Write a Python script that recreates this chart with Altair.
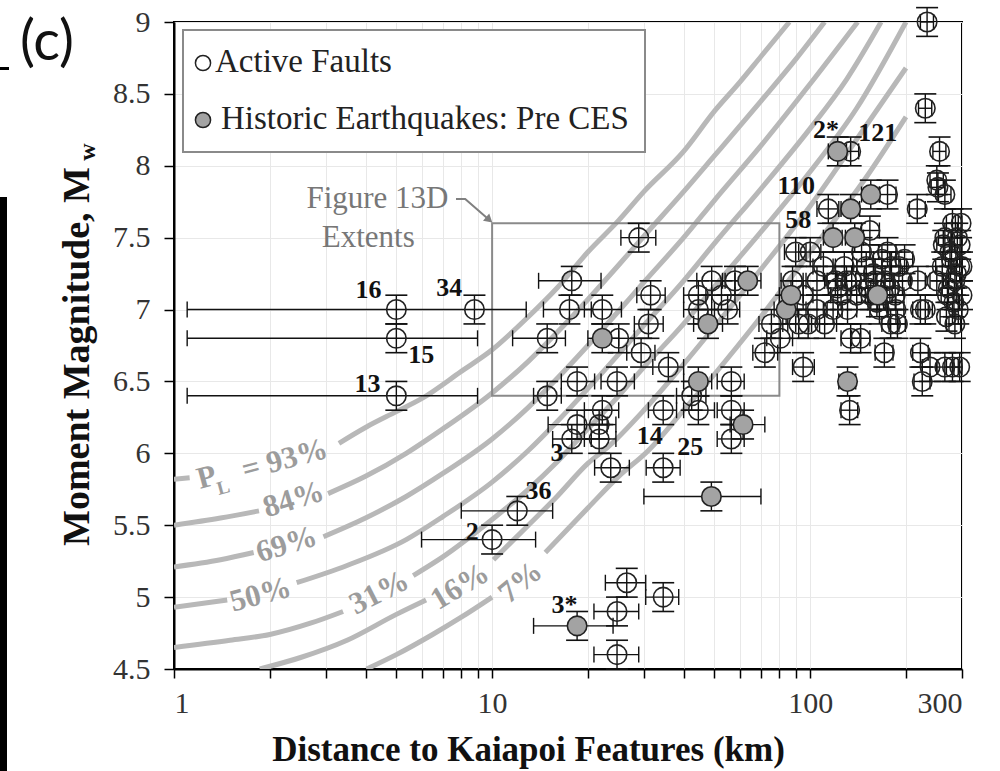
import altair as alt
import pandas as pd

# ---------------- data ----------------
# Active faults: distance (km), magnitude, distance range
af_d = [5, 8.8, 5, 5, 12, 10, 24.7, 26.5, 34.5, 24.7, 34.5, 23.6, 17.8, 21.7, 18.5, 21.7,
        22.2, 34.5, 14.9, 18.5, 24.7, 35.8, 29.4, 14.9, 25, 31, 31.5, 17.5, 22.2, 17.8,
        28.9, 44.5, 56.5, 56.5, 56.5, 42.4, 44.5, 49, 52.6, 44.5, 55, 58, 72, 80.5, 95,
        98.5, 111, 75.5, 133, 131, 134, 144, 171, 179, 222, 225, 238, 265, 222, 100, 90,
        154, 105, 120, 114, 217, 252, 175, 134, 233, 230, 255, 250, 265, 188, 218, 230,
        150, 160, 170, 180, 165, 185, 175, 195, 155, 145, 280, 290, 275, 295, 285, 270,
        292, 260, 285, 300, 265, 298, 250, 295, 280, 88, 95, 110, 125, 130, 118, 105, 92,
        262, 278, 288, 272, 296, 283, 268, 300, 158, 168, 178, 190, 162, 172, 186, 198,
        152, 135, 128, 140, 122]
af_m = [7.0, 7.0, 6.8, 6.4, 5.6, 5.4, 4.9, 5.1, 5.0, 4.6, 5.9, 5.9, 6.1, 6.1, 6.2, 6.2,
        6.3, 6.3, 6.4, 6.5, 6.5, 6.6, 6.7, 6.8, 6.8, 6.9, 7.1, 7.0, 7.0, 7.2,
        7.5, 6.3, 6.5, 6.3, 6.1, 6.4, 7.1, 7.2, 7.1, 7.0, 7.0, 7.2, 6.7, 6.8, 6.6,
        6.9, 6.9, 6.9, 6.3, 7.0, 6.8, 6.8, 6.7, 6.9, 6.7, 6.5, 6.6, 6.6, 7.0, 7.4, 7.4,
        7.55, 7.2, 7.2, 7.7, 7.7, 7.85, 7.8, 8.1, 9.0, 8.4, 8.1, 7.9, 7.8, 6.9, 7.2, 7.0,
        7.3, 7.2, 7.1, 7.3, 7.0, 7.1, 7.4, 7.2, 7.1, 7.4, 7.6, 7.5, 7.4, 7.3, 7.2, 7.1,
        7.0, 7.3, 6.9, 7.1, 7.5, 7.6, 7.2, 6.6, 6.6, 7.2, 7.1, 7.3, 7.1, 7.2, 7.0, 7.0, 6.9,
        7.45, 7.35, 7.25, 7.15, 7.45, 7.05, 6.95, 7.3, 7.25, 7.35, 7.15, 7.3, 7.05, 7.2, 7.0, 7.35,
        7.15, 7.2, 7.3, 7.1, 7.15]
af_dlo = [1.1, 8.8, 1.1, 1.1, 8.0, 6.0, 20.9, 22.7, 30.4, 20.9, 30.5, 21, 15.5, 19.5, 15, 19.5,
          19.5, 31, 13.5, 16.5, 22, 32, 26.5, 11.6, 22.5, 28, 28.5, 14.5, 19.5, 14,
          25.4, 40, 51, 51, 51, 38, 40, 44, 47, 40, 50, 53, 66, 73, 88,
          90, 101, 69, 125, 122, 125, 135, 160, 168, 210, 212, 225, 250, 210, 92, 83,
          145, 97, 111, 105, 205, 240, 165, 126, 222, 219, 243, 238, 253, 177, 206, 218,
          140, 150, 159, 168, 154, 173, 164, 183, 145, 136, 268, 278, 263, 283, 273, 258,
          280, 248, 273, 288, 253, 286, 238, 283, 268, 81, 88, 102, 116, 121, 110, 97, 85,
          250, 266, 276, 260, 284, 271, 256, 288, 148, 158, 167, 179, 152, 162, 175, 186,
          143, 126, 120, 131, 114]
af_dhi = [12.8, 8.8, 9.0, 9.0, 15.5, 13.7, 28.9, 30.4, 38.6, 28.9, 39, 27, 20.5, 24.5, 23, 24.5,
          25, 38, 16.5, 21, 28, 40, 32.5, 17, 28, 34.5, 35, 20.5, 25.5, 22,
          32.7, 50, 62, 62, 62, 47, 49, 54, 58, 49, 60, 64, 79, 88, 103,
          107, 121, 82, 141, 140, 144, 154, 182, 190, 235, 238, 250, 280, 235, 108, 97,
          165, 113, 129, 123, 230, 265, 186, 142, 244, 241, 267, 262, 277, 199, 230, 242,
          160, 171, 181, 192, 176, 197, 186, 207, 165, 154, 292, 300, 287, 300, 297, 282,
          300, 272, 297, 300, 277, 300, 262, 300, 292, 95, 102, 118, 134, 139, 126, 113, 99,
          274, 290, 300, 284, 300, 295, 280, 300, 168, 178, 189, 201, 172, 182, 197, 210,
          161, 144, 136, 149, 130]

# Historic earthquakes (pre CES)
hq_d = [18.5, 48.9, 61.5, 44.5, 47.7, 63.6, 22.2, 84, 87, 122, 155, 118, 138, 134, 131, 163]
hq_m = [4.8, 5.7, 6.2, 6.5, 6.9, 7.2, 6.8, 7.0, 7.1, 8.1, 7.8, 7.5, 7.5, 7.7, 6.5, 7.1]
hq_dlo = [13.5, 30, 56, 40, 43, 58, 20, 77, 80, 114, 145, 110, 129, 125, 123, 152]
hq_dhi = [24, 70, 72, 49, 53, 70, 25, 91, 95, 130, 165, 126, 147, 143, 139, 174]

MAG_ERR = 0.1

# P_L contours (distance km, magnitude, segment split at label)
pl93_d = [1.0, 1.12, 3.3, 4, 5, 6, 8, 10, 13, 16, 20, 25, 30, 40, 50, 60, 70, 86]
pl93_m = [5.82, 5.83, 6.07, 6.18, 6.29, 6.38, 6.57, 6.72, 6.95, 7.15, 7.40, 7.62, 7.82, 8.10, 8.38, 8.58, 8.76, 9.0]
pl93_s = [0, 0] + [1] * 16
pl84_d = [1.0, 1.4, 1.85, 3.05, 4, 5.37, 7, 10, 13, 16, 20, 25, 30, 40, 50, 70, 90, 111]
pl84_m = [5.50, 5.55, 5.60, 5.72, 5.84, 6.00, 6.17, 6.42, 6.64, 6.84, 7.07, 7.31, 7.51, 7.82, 8.07, 8.45, 8.74, 9.0]
pl84_s = [0, 0, 0] + [1] * 15
pl69_d = [1.0, 1.4, 1.78, 2.95, 4, 5.37, 7, 10, 13, 16, 20, 25, 30, 40, 50, 70, 100, 141]
pl69_m = [5.21, 5.26, 5.31, 5.42, 5.55, 5.70, 5.86, 6.10, 6.32, 6.52, 6.75, 6.99, 7.19, 7.50, 7.76, 8.14, 8.57, 9.0]
pl69_s = [0, 0, 0] + [1] * 15
pl50_d = [1.0, 1.47, 2.43, 3.5, 5.37, 7, 10, 13, 16, 20, 25, 30, 40, 50, 70, 100, 130, 167]
pl50_m = [4.93, 4.98, 5.10, 5.22, 5.40, 5.56, 5.80, 6.02, 6.22, 6.45, 6.69, 6.89, 7.20, 7.46, 7.84, 8.26, 8.60, 9.0]
pl50_s = [0, 0] + [1] * 16
pl31_d = [1.0, 1.5, 2.0, 2.7, 3.4, 5.65, 7, 10, 13, 16, 20, 25, 30, 40, 50, 70, 100, 140, 200]
pl31_m = [4.65, 4.70, 4.74, 4.82, 4.90, 5.15, 5.28, 5.54, 5.75, 5.94, 6.17, 6.40, 6.60, 6.90, 7.16, 7.54, 7.96, 8.40, 9.0]
pl31_s = [0] * 5 + [1] * 14
pl16_d = [1.86, 2.5, 3.5, 5.0, 6.2, 10.1, 13, 16, 20, 23.3, 30, 40, 50, 70, 100, 150, 200]
pl16_m = [4.50, 4.58, 4.70, 4.88, 4.98, 5.26, 5.50, 5.70, 5.93, 6.05, 6.30, 6.62, 6.88, 7.28, 7.72, 8.28, 8.68]
pl16_s = [0] * 5 + [1] * 12
pl7_d = [4.03, 5.0, 6.5, 8.0, 10.0, 14.7, 20, 25, 31, 40, 50, 70, 100, 150, 200]
pl7_m = [4.50, 4.60, 4.74, 4.86, 5.00, 5.31, 5.62, 5.84, 6.02, 6.30, 6.55, 6.95, 7.40, 7.92, 8.34]
pl7_s = [0] * 5 + [1] * 10

# contour labels
cl_text = ["P", "L", "= 93%", "84%", "69%", "50%", "31%", "16%", "7%"]
cl_d = [1.269, 1.43, 2.23, 2.378, 2.26, 1.873, 4.42, 7.93, 12.3]
cl_m = [5.829, 5.762, 5.954, 5.676, 5.363, 5.015, 5.029, 5.071, 5.10]
cl_angle = [345, 345, 345, 343, 343, 345, 333, 329, 320]
cl_size = [31, 19, 31, 31, 31, 31, 31, 31, 31]

# point labels
pt_text = ["16", "34", "15", "13", "36", "2", "3", "14", "25", "3*", "2*", "121", "110", "58"]
pt_d = [4.09, 7.33, 5.99, 4.06, 14.0, 8.66, 16.0, 31.3, 42.0, 16.9, 112, 163, 90.4, 91.7]
pt_m = [7.136, 7.15, 6.684, 6.483, 5.74, 5.45, 6.0, 6.12, 6.045, 4.946, 8.25, 8.23, 7.86, 7.62]

# Figure 13D extents box
box_d = [10, 80]
box_m = [6.4, 7.6]
box_text = ["Figure 13D", "Extents"]
box_text_d = [4.36, 4.08]
box_text_m = [7.769, 7.498]
arrow_d = [7.7, 8.23, 9.72]
arrow_m = [7.769, 7.769, 7.63]

x_ticks = [1, 2, 3, 4, 5, 6, 7, 8, 9, 10, 20, 30, 40, 50, 60, 70, 80, 90, 100, 200, 300]
x_labels = [1, 10, 100, 300]
y_ticks = [4.5, 5, 5.5, 6, 6.5, 7, 7.5, 8, 8.5, 9]

# ---------------- build tables ----------------
frames = []
for name, d, m, s in [("93", pl93_d, pl93_m, pl93_s), ("84", pl84_d, pl84_m, pl84_s),
                      ("69", pl69_d, pl69_m, pl69_s), ("50", pl50_d, pl50_m, pl50_s),
                      ("31", pl31_d, pl31_m, pl31_s), ("16", pl16_d, pl16_m, pl16_s),
                      ("7", pl7_d, pl7_m, pl7_s)]:
    frames.append(pd.DataFrame({"d": d, "m": m, "seg": [f"{name}-{v}" for v in s],
                                "order": list(range(len(d)))}))
curves = pd.concat(frames, ignore_index=True)

af = pd.DataFrame({"d": af_d, "m": af_m, "dlo": af_dlo, "dhi": af_dhi, "g": "Active Faults"})
hq = pd.DataFrame({"d": hq_d, "m": hq_m, "dlo": hq_dlo, "dhi": hq_dhi, "g": "Historic"})
pts = pd.concat([af, hq], ignore_index=True)
pts["mlo"] = pts["m"] - MAG_ERR
pts["mhi"] = pts["m"] + MAG_ERR

SERIF = "Liberation Serif"
xs = alt.Scale(type="log", domain=[1, 300])
ys = alt.Scale(domain=[4.5, 9])
lbl_expr = "indexof([" + ",".join(str(v) for v in x_labels) + "], datum.value) >= 0 ? datum.label : ''"

x_axis = alt.Axis(values=x_ticks, labelExpr=lbl_expr, format="~g", labelOverlap=False,
                  labelFont=SERIF, labelFontSize=30, labelColor="#333", labelPadding=10,
                  tickSize=9, tickWidth=1.5, tickColor="black", domainColor="black", domainWidth=2,
                  grid=True, gridColor="#e8e8e8", gridWidth=1,
                  title="Distance to Kaiapoi Features (km)", titleFont=SERIF, titleFontSize=35,
                  titleFontWeight="bold", titleColor="#111", titleX=354, titleY=91,
                  titleBaseline="alphabetic", titleAlign="center")
y_axis = alt.Axis(values=y_ticks, format="~g", labelFont=SERIF, labelFontSize=30, labelColor="#333",
                  labelPadding=14, tickSize=10, tickWidth=1.5, tickColor="black",
                  domainColor="black", domainWidth=2, grid=True, gridColor="#e8e8e8", gridWidth=1,
                  title="Moment Magnitude, M", titleFont=SERIF, titleFontSize=38, titleFontWeight="bold",
                  titleColor="#111", titleAngle=270, titleX=-86, titleY=334,
                  titleBaseline="alphabetic", titleAlign="center")


def X(f):
    return alt.X(f, type="quantitative", scale=xs, axis=x_axis)


def Y(f):
    return alt.Y(f, type="quantitative", scale=ys, axis=y_axis)


curve_layer = alt.Chart(curves).mark_line(color="#b8b8b8", strokeWidth=5, interpolate="monotone",
                                          clip=True, strokeCap="butt").encode(
    x=X("d"), y=Y("m"), detail="seg:N", order="order:Q")

box_df = pd.DataFrame({"d": [box_d[0]], "d2": [box_d[1]], "m": [box_m[0]], "m2": [box_m[1]]})
box_layer = alt.Chart(box_df).mark_rect(fill=None, stroke="#8a8a8a", strokeWidth=2).encode(
    x=X("d"), x2="d2", y=Y("m"), y2="m2")

box_lbl = alt.Chart(pd.DataFrame({"t": box_text, "d": box_text_d, "m": box_text_m})).mark_text(
    font=SERIF, fontSize=31, color="#777", baseline="middle", align="center").encode(
    x=X("d"), y=Y("m"), text="t:N")

arrow_df = pd.DataFrame({"d": arrow_d, "m": arrow_m, "o": [0, 1, 2]})
arrow_line = alt.Chart(arrow_df).mark_line(color="#808080", strokeWidth=2).encode(
    x=X("d"), y=Y("m"), order="o:Q")
arrow_head = alt.Chart(arrow_df.iloc[[2]]).mark_point(shape="triangle", filled=True, color="#808080",
                                                     size=90, angle=131, opacity=1).encode(x=X("d"), y=Y("m"))

hbar = alt.Chart(pts).transform_filter("datum.dhi > datum.dlo").mark_rule(
    color="#111", strokeWidth=1.4).encode(x=X("dlo"), x2="dhi", y=Y("m"))
vbar = alt.Chart(pts).mark_rule(color="#111", strokeWidth=1.4).encode(x=X("d"), y=Y("mlo"), y2="mhi")
hcap_lo = alt.Chart(pts).transform_filter("datum.dhi > datum.dlo").mark_tick(
    orient="vertical", size=16, thickness=1.4, color="#111", opacity=1).encode(x=X("dlo"), y=Y("m"))
hcap_hi = alt.Chart(pts).transform_filter("datum.dhi > datum.dlo").mark_tick(
    orient="vertical", size=16, thickness=1.4, color="#111", opacity=1).encode(x=X("dhi"), y=Y("m"))
vcap_lo = alt.Chart(pts).mark_tick(orient="horizontal", size=22, thickness=1.6, color="#111",
                                   opacity=1).encode(x=X("d"), y=Y("mlo"))
vcap_hi = alt.Chart(pts).mark_tick(orient="horizontal", size=22, thickness=1.6, color="#111",
                                   opacity=1).encode(x=X("d"), y=Y("mhi"))

af_layer = alt.Chart(af).mark_point(shape="circle", filled=False, size=380, stroke="#222",
                                    strokeWidth=1.6, opacity=1).encode(x=X("d"), y=Y("m"))
hq_layer = alt.Chart(hq).mark_circle(size=380, fill="#a3a3a3", stroke="#222", strokeWidth=1.6,
                                     opacity=1).encode(x=X("d"), y=Y("m"))

cl_layer = alt.Chart(pd.DataFrame({"t": cl_text, "d": cl_d, "m": cl_m, "a": cl_angle, "s": cl_size})).mark_text(
    font=SERIF, fontWeight="bold", color="#9c9c9c", baseline="middle", align="center").encode(
    x=X("d"), y=Y("m"), text="t:N", angle=alt.Angle("a:Q", scale=None),
    size=alt.Size("s:Q", scale=None, legend=None))

pt_layer = alt.Chart(pd.DataFrame({"t": pt_text, "d": pt_d, "m": pt_m})).mark_text(
    font=SERIF, fontWeight="bold", fontSize=26, color="#111", baseline="middle", align="center").encode(
    x=X("d"), y=Y("m"), text="t:N")

dummy = pd.DataFrame({"k": [0]})
# manual legend (pixel positions in the plot area)
leg_box = alt.Chart(dummy).mark_rect(fill="white", stroke="#8a8a8a", strokeWidth=2).encode(
    x=alt.value(9), x2=alt.value(471), y=alt.value(8), y2=alt.value(130))
leg_sym1 = alt.Chart(dummy).mark_point(shape="circle", filled=False, size=230, stroke="#222",
                                       strokeWidth=1.5, opacity=1).encode(x=alt.value(29), y=alt.value(41))
leg_sym2 = alt.Chart(dummy).mark_circle(size=230, fill="#a3a3a3", stroke="#222", strokeWidth=1.5,
                                        opacity=1).encode(x=alt.value(29), y=alt.value(98))
leg_txt1 = alt.Chart(dummy).mark_text(text="Active Faults", font=SERIF, fontSize=33, color="#222",
                                      align="left", baseline="middle").encode(x=alt.value(41), y=alt.value(40))
leg_txt2 = alt.Chart(dummy).mark_text(text="Historic Earthquakes: Pre CES", font=SERIF, fontSize=33,
                                      color="#222", align="left", baseline="middle").encode(
    x=alt.value(47), y=alt.value(97))

# subscript of the y-title and panel letter
sub_w = alt.Chart(dummy).mark_text(text="w", font=SERIF, fontSize=24, fontWeight="bold", color="#111",
                                   angle=270, align="center", baseline="alphabetic").encode(
    x=alt.value(-79), y=alt.value(130))
panel = alt.Chart(dummy).mark_text(text="(c)", font="Lato", fontSize=56, color="#111",
                                   align="center", baseline="alphabetic").encode(x=alt.value(-127), y=alt.value(38))
edge_bar = alt.Chart(dummy).mark_rect(color="black").encode(
    x=alt.value(-174), x2=alt.value(-167), y=alt.value(175), y2=alt.value(749))
edge_dash = alt.Chart(dummy).mark_rect(color="black").encode(
    x=alt.value(-174), x2=alt.value(-165), y=alt.value(45), y2=alt.value(48))

chart = alt.layer(
    curve_layer, box_layer, box_lbl, arrow_line, arrow_head,
    hbar, vbar, hcap_lo, hcap_hi, vcap_lo, vcap_hi,
    af_layer, hq_layer, cl_layer, pt_layer,
    leg_box, leg_sym1, leg_sym2, leg_txt1, leg_txt2,
    sub_w, panel, edge_bar, edge_dash
).properties(
    width=788, height=647,
    padding={"left": 174, "top": 22, "right": 38, "bottom": 102},
    autosize=alt.AutoSizeParams(type="none"),
    background="white"
).configure_view(stroke="black", strokeWidth=2)

chart.save("out.html", embed_options={"renderer": "svg", "actions": False})
